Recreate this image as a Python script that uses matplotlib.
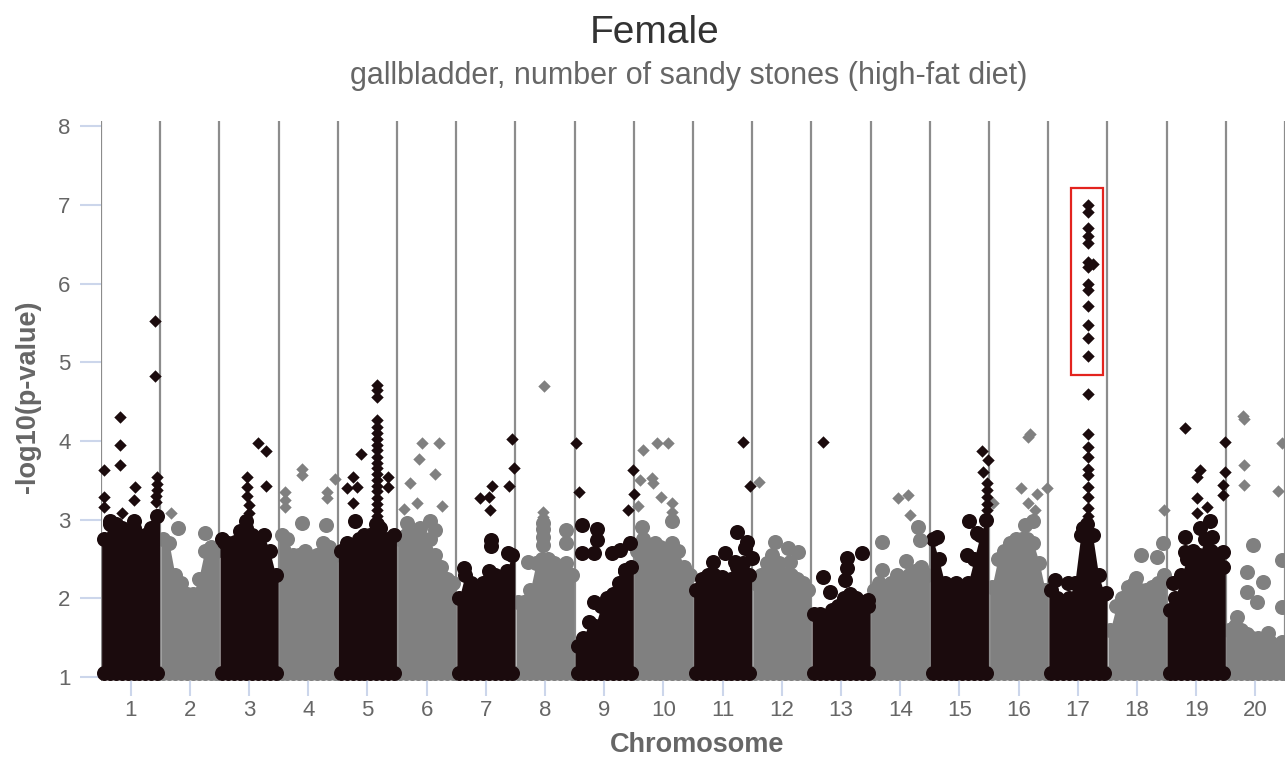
import numpy as np
import matplotlib.pyplot as plt
from matplotlib.patches import Rectangle

plt.rcParams['font.family'] = ['Liberation Sans', 'DejaVu Sans']

title = "Female"
subtitle = "gallbladder, number of sandy stones (high-fat diet)"
chrom_labels = [str(i) for i in range(1, 21)]
y_ticks = [1, 2, 3, 4, 5, 6, 7, 8]

# where inside each chromosome the dense body tops were read (fraction of width)
body_frac = [0.05, 0.15, 0.25, 0.35, 0.45, 0.55, 0.65, 0.75, 0.85, 0.95]

# top of the dense cloud of points, -log10(p)
chr1_body = [2.75, 2.95, 2.95, 2.9, 2.85, 2.9, 2.75, 2.8, 2.9, 3.05]
chr2_body = [2.75, 2.7, 2.3, 2.2, 2.05, 2.05, 2.25, 2.6, 2.65, 2.6]
chr3_body = [2.75, 2.7, 2.55, 2.85, 2.9, 2.8, 2.75, 2.8, 2.6, 2.3]
chr4_body = [2.8, 2.75, 2.55, 2.55, 2.6, 2.5, 2.55, 2.7, 2.65, 2.55]
chr5_body = [2.6, 2.7, 2.65, 2.75, 2.8, 2.8, 2.95, 2.75, 2.75, 2.8]
chr6_body = [2.75, 2.8, 2.8, 2.7, 2.75, 2.75, 2.55, 2.4, 2.25, 2.2]
chr7_body = [2.0, 2.3, 2.2, 2.05, 2.2, 2.35, 2.3, 2.25, 2.35, 2.55]
chr8_body = [1.95, 1.95, 2.1, 2.45, 2.5, 2.5, 2.45, 2.4, 2.45, 2.3]
chr9_body = [1.4, 1.5, 1.7, 1.65, 1.9, 2.0, 2.05, 2.2, 2.35, 2.4]
chr10_body = [2.6, 2.75, 2.6, 2.7, 2.65, 2.6, 2.7, 2.6, 2.4, 2.3]
chr11_body = [2.1, 2.25, 2.3, 2.3, 2.15, 2.1, 2.25, 2.4, 2.45, 2.3]
chr12_body = [2.2, 2.3, 2.45, 2.4, 2.45, 2.3, 2.3, 2.25, 2.2, 2.1]
chr13_body = [1.8, 1.8, 1.75, 1.85, 1.9, 2.0, 2.05, 2.0, 1.95, 1.9]
chr14_body = [2.1, 2.2, 2.1, 2.2, 2.3, 2.2, 2.3, 2.35, 2.4, 2.3]
chr15_body = [2.75, 2.5, 2.2, 2.15, 2.2, 2.15, 2.2, 2.5, 2.8, 3.0]
chr16_body = [2.15, 2.5, 2.6, 2.7, 2.75, 2.75, 2.75, 2.7, 2.45, 2.1]
chr17_body = [2.1, 2.0, 1.9, 2.0, 2.2, 2.8, 2.95, 2.8, 2.3, 2.05]
chr18_body = [1.6, 1.9, 2.0, 2.15, 2.2, 2.1, 2.1, 2.15, 2.2, 2.3]
chr19_body = [1.85, 2.0, 2.3, 2.5, 2.6, 2.55, 2.75, 2.6, 2.5, 2.4]
chr20_body = [1.6, 1.65, 1.6, 1.55, 1.5, 1.5, 1.45, 1.45, 1.4, 1.45]

# single markers above the cloud: (fraction of chromosome, -log10(p))
chr1_hits = [(0.05, 3.63), (0.05, 3.29), (0.05, 3.16), (0.32, 4.30), (0.32, 3.95),
             (0.32, 3.69), (0.35, 3.08), (0.57, 3.41), (0.56, 3.25), (0.92, 5.52),
             (0.92, 4.82), (0.95, 3.54), (0.95, 3.45), (0.94, 3.38), (0.93, 3.3),
             (0.93, 3.22), (0.15, 2.98), (0.55, 2.98)]
chr2_hits = [(0.18, 3.08), (0.3, 2.9), (0.76, 2.83)]
chr3_hits = [(0.47, 3.54), (0.47, 3.42), (0.46, 3.3), (0.5, 3.19), (0.5, 3.08),
             (0.66, 3.97), (0.78, 3.87), (0.78, 3.43), (0.45, 2.98), (0.26, 2.72),
             (0.08, 2.72)]
chr4_hits = [(0.1, 3.35), (0.1, 3.25), (0.1, 3.16), (0.4, 3.64), (0.4, 3.57),
             (0.82, 3.35), (0.82, 3.27), (0.95, 3.52), (0.4, 2.96), (0.8, 2.93)]
chr5_hits = [(0.66, 4.71), (0.66, 4.65), (0.66, 4.56), (0.66, 4.27), (0.66, 4.18),
             (0.66, 4.1), (0.66, 4.02), (0.66, 3.95), (0.66, 3.88), (0.66, 3.8),
             (0.66, 3.72), (0.66, 3.65), (0.66, 3.58), (0.66, 3.5), (0.66, 3.43),
             (0.66, 3.36), (0.66, 3.28), (0.66, 3.2), (0.66, 3.12), (0.66, 3.05),
             (0.4, 3.83), (0.26, 3.54), (0.15, 3.4), (0.32, 3.41), (0.25, 3.21),
             (0.84, 3.54), (0.84, 3.41), (0.29, 2.98), (0.66, 2.95), (0.72, 2.9)]
chr6_hits = [(0.42, 3.97), (0.71, 3.97), (0.37, 3.77), (0.65, 3.58), (0.22, 3.46),
             (0.34, 3.21), (0.76, 3.17), (0.12, 3.13), (0.56, 2.98), (0.17, 2.96),
             (0.39, 2.89), (0.65, 2.87)]
chr7_hits = [(0.4, 3.27), (0.6, 3.43), (0.55, 3.29), (0.57, 3.12), (0.95, 4.02),
             (0.98, 3.66), (0.9, 3.43), (0.13, 2.38), (0.58, 2.74), (0.58, 2.66),
             (0.88, 2.58)]
chr8_hits = [(0.49, 4.70), (0.47, 3.1), (0.47, 3.04), (0.47, 2.96), (0.47, 2.88),
             (0.47, 2.78), (0.47, 2.68), (0.85, 2.87), (0.85, 2.7), (0.22, 2.46)]
chr9_hits = [(0.03, 3.97), (0.07, 3.35), (0.99, 3.63), (1.0, 3.33), (0.9, 3.12),
             (0.12, 2.93), (0.37, 2.88), (0.37, 2.74), (0.12, 2.58), (0.32, 2.58),
             (0.63, 2.58), (0.76, 2.62), (0.93, 2.7), (0.85, 2.36), (0.32, 1.95)]
chr10_hits = [(0.15, 3.88), (0.39, 3.97), (0.57, 3.97), (0.1, 3.5), (0.3, 3.53),
              (0.32, 3.46), (0.46, 3.29), (0.64, 3.21), (0.07, 3.17), (0.64, 3.1),
              (0.14, 2.91), (0.64, 2.98)]
chr11_hits = [(0.85, 3.99), (0.97, 3.43), (0.75, 2.84), (0.91, 2.71), (0.88, 2.64),
              (0.54, 2.58), (0.71, 2.46), (0.99, 2.51), (0.34, 2.46), (0.49, 2.27)]
chr12_hits = [(0.12, 3.48), (0.39, 2.71), (0.61, 2.64), (0.78, 2.59), (0.64, 2.46),
              (0.34, 2.55)]
chr13_hits = [(0.2, 3.99), (0.19, 2.27), (0.86, 2.58), (0.6, 2.51), (0.6, 2.38),
              (0.57, 2.23), (0.32, 2.08), (0.95, 1.98)]
chr14_hits = [(0.46, 3.27), (0.63, 3.31), (0.66, 3.06), (0.2, 2.71), (0.6, 2.48),
              (0.8, 2.91), (0.83, 2.74), (0.2, 2.36)]
chr15_hits = [(0.88, 3.87), (0.98, 3.76), (0.9, 3.6), (0.96, 3.46), (0.96, 3.38),
              (0.96, 3.29), (0.96, 3.2), (0.96, 3.12), (0.67, 2.98), (0.13, 2.78),
              (0.63, 2.55), (0.8, 2.83)]
chr16_hits = [(0.69, 4.09), (0.66, 4.05), (0.54, 3.4), (0.81, 3.33), (0.98, 3.4),
              (0.66, 3.21), (0.07, 3.21), (0.78, 3.12), (0.75, 2.98), (0.61, 2.93)]
chr17_hits = [(0.67, 7.0), (0.67, 6.91), (0.67, 6.7), (0.67, 6.6), (0.67, 6.51),
              (0.67, 6.27), (0.76, 6.25), (0.67, 6.21), (0.67, 5.99), (0.67, 5.92),
              (0.67, 5.71), (0.67, 5.47), (0.67, 5.31), (0.67, 5.08), (0.67, 4.6),
              (0.67, 4.09), (0.67, 3.92), (0.67, 3.8), (0.67, 3.64), (0.67, 3.57),
              (0.67, 3.41), (0.67, 3.29), (0.67, 3.15), (0.67, 3.05), (0.12, 2.23),
              (0.34, 2.2), (0.58, 2.9), (0.97, 2.07)]
chr18_hits = [(0.96, 3.12), (0.56, 2.55), (0.94, 2.7), (0.84, 2.53), (0.48, 2.26)]
chr19_hits = [(0.31, 4.16), (0.98, 3.99), (0.56, 3.63), (0.52, 3.54), (0.98, 3.6),
              (0.95, 3.44), (0.95, 3.31), (0.51, 3.27), (0.69, 3.16), (0.51, 3.08),
              (0.73, 2.98), (0.56, 2.89), (0.76, 2.78), (0.31, 2.78), (0.31, 2.59),
              (0.1, 2.19), (0.95, 2.59)]
chr20_hits = [(0.29, 4.32), (0.31, 4.28), (0.31, 3.69), (0.31, 3.44), (0.88, 3.37),
              (0.95, 3.97), (0.46, 2.68), (0.36, 2.33), (0.36, 2.08), (0.63, 2.21),
              (0.53, 1.95), (0.95, 1.89), (0.95, 2.49), (0.19, 1.76), (0.71, 1.56)]

# highlighted peak on chromosome 17: x from, x to, y from, y to
box_x = [16.39, 16.93]
box_y = [4.84, 7.22]

bodies = [chr1_body, chr2_body, chr3_body, chr4_body, chr5_body, chr6_body, chr7_body,
          chr8_body, chr9_body, chr10_body, chr11_body, chr12_body, chr13_body,
          chr14_body, chr15_body, chr16_body, chr17_body, chr18_body, chr19_body,
          chr20_body]
hits = [chr1_hits, chr2_hits, chr3_hits, chr4_hits, chr5_hits, chr6_hits, chr7_hits,
        chr8_hits, chr9_hits, chr10_hits, chr11_hits, chr12_hits, chr13_hits,
        chr14_hits, chr15_hits, chr16_hits, chr17_hits, chr18_hits, chr19_hits,
        chr20_hits]

DARK = '#1b0b0d'
GRAY = '#808080'
TICK_BLUE = '#ccd6eb'
TXT = '#666666'

fig = plt.figure(figsize=(12.85, 7.6), dpi=100)
ax = fig.add_axes([101 / 1285, 79 / 760, 1 - 101 / 1285, 560 / 760])
ax.set_xlim(0, 20)
ax.set_ylim(0.95, 8.065)

# chromosome separators
ax.vlines(np.arange(0, 21), 0.95, 8.065, colors='#8c8c8c', lw=1.6, zorder=1)
ax.axhline(1, color=TICK_BLUE, lw=1.5, zorder=0.5)

# gray chromosomes first, black ones on top
order = [i for i in range(20) if i % 2 == 1] + [i for i in range(20) if i % 2 == 0]
for i in order:
    col = DARK if i % 2 == 0 else GRAY
    x0 = i
    xs = x0 + np.array(body_frac)
    top = np.array(bodies[i])
    ax.fill_between(np.r_[x0 + 0.01, xs, x0 + 0.99], 0.97, np.r_[top[0], top, top[-1]],
                    color=col, lw=0, zorder=2, clip_on=False)
    ax.scatter(xs, top, s=117, marker='o', color=col, lw=0, zorder=2, clip_on=False)
    ax.scatter(xs, np.full(len(xs), 1.05), s=117, marker='o', color=col, lw=0,
               zorder=2, clip_on=False)

    f = np.array([h[0] for h in hits[i]])
    v = np.array([h[1] for h in hits[i]])
    low = v < 3
    ax.scatter(x0 + f[low], v[low], s=117, marker='o', color=col, lw=0, zorder=3,
               clip_on=False)
    ax.scatter(x0 + f[~low], v[~low], s=40, marker='D', color=col, lw=0, zorder=4,
               clip_on=False)

ax.add_patch(Rectangle((box_x[0], box_y[0]), box_x[1] - box_x[0], box_y[1] - box_y[0],
                       fill=False, ec='#e3231e', lw=1.6, zorder=5))

for s in ax.spines.values():
    s.set_visible(False)
ax.set_yticks(y_ticks)
ax.set_xticks(np.arange(20) + 0.5)
ax.set_xticklabels(chrom_labels)
ax.tick_params(axis='y', length=15, width=1.5, color=TICK_BLUE, pad=7,
               labelsize=16, labelcolor=TXT)
ax.tick_params(axis='x', length=11, width=1.5, color=TICK_BLUE, pad=3,
               labelsize=16, labelcolor=TXT)

fig.text(655 / 1285, 1 - 33 / 760, title, ha='center', va='center', fontsize=28,
         color='#333333')
fig.text(689 / 1285, 1 - 76 / 760, subtitle, ha='center', va='center', fontsize=22,
         color=TXT)
fig.text(28 / 1285, 1 - 397 / 760, '-log10(p-value)', rotation=90, ha='center',
         va='center', fontsize=19.5, fontweight='bold', color=TXT)
fig.text(697 / 1285, 1 - 745 / 760, 'Chromosome', ha='center', va='center',
         fontsize=19.5, fontweight='bold', color=TXT)

fig.savefig('out.png', dpi=100)
